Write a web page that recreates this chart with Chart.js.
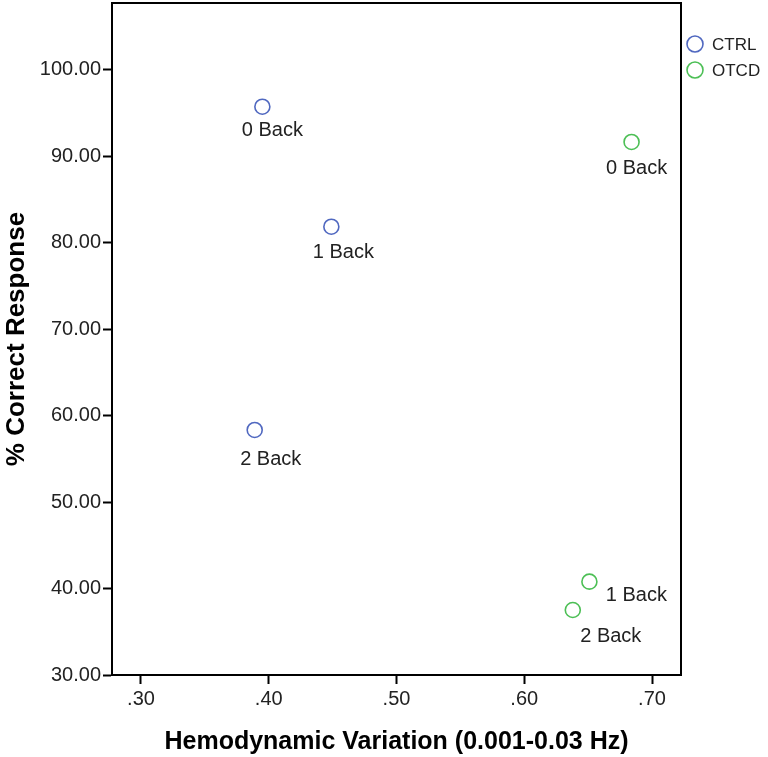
<!DOCTYPE html>
<html lang="en">
<head>
  <meta charset="UTF-8">
  <title>% Correct Response vs Hemodynamic Variation</title>
  <script src="https://cdn.jsdelivr.net/npm/chart.js"></script>
  <style>
    body { margin: 0; background: #fff; }
    #chart { display: block; }
  </style>
</head>
<body>
  <canvas id="chart" width="768" height="757"></canvas>
  <script>
    // data
    const groups = ['CTRL', 'OTCD'];
    const conditions = ['0 Back', '1 Back', '2 Back'];
    const ctrlX = [0.395, 0.449, 0.389];
    const ctrlY = [95.75, 81.87, 58.35];
    const otcdX = [0.684, 0.651, 0.638];
    const otcdY = [91.67, 40.80, 37.52];
    const xTicks = [0.30, 0.40, 0.50, 0.60, 0.70];
    const yTicks = [30, 40, 50, 60, 70, 80, 90, 100];

    const colors = ['#5068c0', '#4cbf55'];
    const FONT = 'Arial, "Liberation Sans", sans-serif';

    // label offsets (px) from each point, per group / condition
    const labelOffsets = [
      [[10, 24], [12, 26], [16, 30]],
      [[5, 27], [47, 14], [38, 26]]
    ];

    function toPoints(xs, ys) {
      return xs.map((x, i) => ({ x, y: ys[i], label: conditions[i] }));
    }

    const framePlugin = {
      id: 'frame',
      afterDraw(chart) {
        const { ctx, chartArea: a } = chart;
        ctx.save();
        ctx.strokeStyle = '#000';
        ctx.lineWidth = 2;
        ctx.strokeRect(a.left, a.top, a.right - a.left, a.bottom - a.top);
        ctx.restore();
      }
    };

    const pointLabels = {
      id: 'pointLabels',
      afterDatasetsDraw(chart) {
        const ctx = chart.ctx;
        ctx.save();
        ctx.font = '20px ' + FONT;
        ctx.fillStyle = '#222';
        ctx.textAlign = 'center';
        ctx.textBaseline = 'middle';
        chart.data.datasets.forEach((ds, di) => {
          chart.getDatasetMeta(di).data.forEach((pt, i) => {
            const off = labelOffsets[di][i];
            ctx.fillText(ds.data[i].label, pt.x + off[0], pt.y + off[1]);
          });
        });
        ctx.restore();
      }
    };

    const sideLegend = {
      id: 'sideLegend',
      afterDraw(chart) {
        const ctx = chart.ctx;
        const x0 = chart.chartArea.right + 14;
        ctx.save();
        ctx.font = '17px ' + FONT;
        ctx.textBaseline = 'middle';
        chart.data.datasets.forEach((ds, i) => {
          const y = 44 + i * 26;
          ctx.beginPath();
          ctx.arc(x0, y, 8, 0, Math.PI * 2);
          ctx.strokeStyle = ds.borderColor;
          ctx.lineWidth = 1.6;
          ctx.stroke();
          ctx.fillStyle = '#222';
          ctx.fillText(ds.label, x0 + 17, y + 1);
        });
        ctx.restore();
      }
    };

    new Chart(document.getElementById('chart'), {
      type: 'scatter',
      data: {
        datasets: [
          { label: groups[0], data: toPoints(ctrlX, ctrlY), borderColor: colors[0] },
          { label: groups[1], data: toPoints(otcdX, otcdY), borderColor: colors[1] }
        ]
      },
      options: {
        responsive: false,
        animation: false,
        devicePixelRatio: 1,
        layout: { autoPadding: false, padding: { top: 3, right: 87, left: 0, bottom: 0 } },
        elements: {
          point: { radius: 7.5, borderWidth: 1.6, backgroundColor: 'rgba(0,0,0,0)', pointStyle: 'circle' }
        },
        plugins: { legend: { display: false }, tooltip: { enabled: false } },
        scales: {
          x: {
            type: 'linear',
            min: 0.2773,
            max: 0.7227,
            afterBuildTicks: s => { s.ticks = xTicks.map(v => ({ value: v })); },
            afterFit: s => { s.height = 82; s.paddingLeft = 0; s.paddingRight = 0; },
            ticks: {
              color: '#222',
              font: { family: FONT, size: 20 },
              padding: 3,
              callback: v => v.toFixed(2).replace(/^0/, '')
            },
            grid: { drawOnChartArea: false, tickLength: 9, color: '#000', tickWidth: 2 },
            border: { display: true, color: '#000', width: 2 },
            title: {
              display: true,
              text: 'Hemodynamic Variation (0.001-0.03 Hz)',
              color: '#000',
              font: { family: FONT, size: 25, weight: 'bold' },
              padding: { top: 0, bottom: 0 }
            }
          },
          y: {
            type: 'linear',
            min: 30,
            max: 107.75,
            afterBuildTicks: s => { s.ticks = yTicks.map(v => ({ value: v })); },
            afterFit: s => { s.width = 112; s.paddingTop = 0; s.paddingBottom = 0; },
            ticks: {
              color: '#222',
              font: { family: FONT, size: 20 },
              padding: 2,
              callback: v => v.toFixed(2)
            },
            grid: { drawOnChartArea: false, tickLength: 9, color: '#000', tickWidth: 2 },
            border: { display: true, color: '#000', width: 2 },
            title: {
              display: true,
              text: '% Correct Response',
              color: '#000',
              font: { family: FONT, size: 26, weight: 'bold' },
              padding: { top: 1, bottom: 0 }
            }
          }
        }
      },
      plugins: [framePlugin, pointLabels, sideLegend]
    });
  </script>
</body>
</html>
